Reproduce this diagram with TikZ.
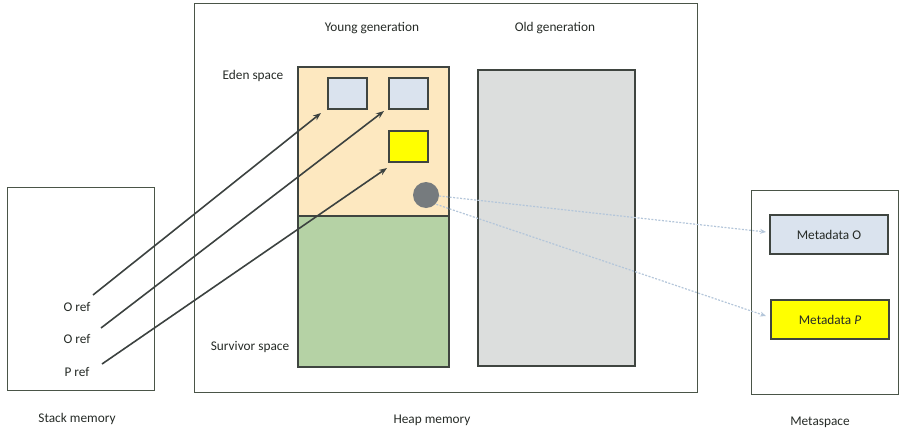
\documentclass[tikz,border=0pt]{standalone}
\usepackage{fontspec}
\setmainfont{Carlito}
\usetikzlibrary{arrows.meta}
\definecolor{edge}{HTML}{3F4540}
\definecolor{outer}{HTML}{4A5548}
\definecolor{eden}{HTML}{FDE8C0}
\definecolor{surv}{HTML}{B5D2A5}
\definecolor{oldg}{HTML}{DCDEDD}
\definecolor{objb}{HTML}{DAE3EE}
\definecolor{yel}{HTML}{FFFF00}
\definecolor{circ}{HTML}{767B7E}
\definecolor{dash}{HTML}{B4C6DA}
\definecolor{arr}{HTML}{3C4240}
\definecolor{txt}{HTML}{262B27}
\tikzset{
  outerbox/.style={draw=outer, line width=1pt, inner sep=0pt},
  innerbox/.style={draw=edge, line width=1.3pt, inner sep=0pt},
  lbl/.style={font=\fontsize{13.3}{15}\selectfont, text=txt, inner sep=0pt},
  ref/.style={draw=arr, line width=1.6pt, -{Stealth[length=8pt,width=6pt]}},
  meta/.style={draw=dash, line width=1.2pt, dash pattern=on 2pt off 1.5pt, -{Stealth[length=6pt,width=5pt]}}
}
\begin{document}
\begin{tikzpicture}[x=1pt,y=-1pt]
\useasboundingbox (0,0) rectangle (904,431);
% outer boxes
\node[outerbox, minimum width=147pt, minimum height=203pt] (stack) at (80.5,288.5) {};
\node[outerbox, minimum width=503pt, minimum height=389pt] (heap) at (445.5,197.5) {};
\node[outerbox, minimum width=147pt, minimum height=204pt] (metas) at (824.5,292) {};
% heap areas
\node[innerbox, fill=eden, minimum width=151pt, minimum height=149pt] (eden) at (373.5,141.5) {};
\node[innerbox, fill=surv, minimum width=151pt, minimum height=151pt] (surv) at (373.5,291.5) {};
\node[innerbox, fill=oldg, minimum width=157pt, minimum height=296pt] (old) at (556.5,218) {};
% objects
\node[innerbox, fill=objb, minimum width=39pt, minimum height=31pt] (o1) at (347.5,93.5) {};
\node[innerbox, fill=objb, minimum width=39pt, minimum height=31pt] (o2) at (408.5,93.5) {};
\node[innerbox, fill=yel, minimum width=39pt, minimum height=31pt] (p1) at (408.5,146.5) {};
\node[circle, fill=circ, minimum size=26pt, inner sep=0pt] (cls) at (426,195) {};
% metadata
\node[innerbox, fill=objb, minimum width=118pt, minimum height=39pt, font=\fontsize{13.3}{15}\selectfont, text=txt] (mo) at (829,234.5) {Metadata O};
\node[innerbox, fill=yel, minimum width=118pt, minimum height=39pt, font=\fontsize{13.3}{15}\selectfont, text=txt] (mp) at (830,319.5) {Metadata \textit{P}};
% labels
\node[lbl] (yg) at (372,28) {Young generation};
\node[lbl] (og) at (555,28) {Old generation};
\node[lbl] (es) at (253,76) {Eden space};
\node[lbl] (ss) at (250,347) {Survivor space};
\node[lbl] (r1) at (77,307) {O ref};
\node[lbl] (r2) at (77,339) {O ref};
\node[lbl] (r3) at (77,372) {P ref};
\node[lbl] (sm) at (77,419) {Stack memory};
\node[lbl] (hm) at (432,420) {Heap memory};
\node[lbl] (ms) at (820,422) {Metaspace};
% reference arrows
\coordinate (s1) at (93,295);
\coordinate (s2) at (101,328);
\coordinate (s3) at (102,364);
\coordinate (t1) at (321,113);
\coordinate (t2) at (384,111);
\coordinate (t3) at (387,168);
\draw[ref] (s1) -- (t1);
\draw[ref] (s2) -- (t2);
\draw[ref] (s3) -- (t3);
% metadata pointers
\coordinate (m1) at (766,232);
\coordinate (m2) at (766,316);
\draw[meta] (cls.east) ++(0,1) -- (m1);
\draw[meta] (cls.south east) ++(1,0) -- (m2);
\end{tikzpicture}
\end{document}
